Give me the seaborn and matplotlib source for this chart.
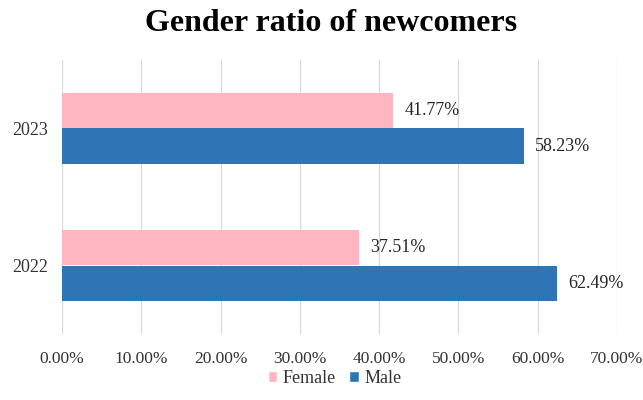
import matplotlib
matplotlib.use("Agg")
import matplotlib.pyplot as plt
import seaborn as sns
import pandas as pd
from matplotlib.patches import Patch

years = ["2023", "2022"]
female = [41.77, 37.51]
male = [58.23, 62.49]
genders = ["Female", "Male"]
colors = {"Female": "#FFB6C1", "Male": "#2E75B6"}
xticks = [0, 10, 20, 30, 40, 50, 60, 70]

rows = []
for y, f, m in zip(years, female, male):
    rows.append({"year": y, "gender": "Female", "value": f})
    rows.append({"year": y, "gender": "Male", "value": m})
df = pd.DataFrame(rows)

sns.set_theme(style="white")
plt.rcParams['font.family'] = ['Liberation Serif', 'DejaVu Serif']

fig = plt.figure(figsize=(6.43, 4.0), dpi=100)
ax = fig.add_axes([0.0964, 0.165, 0.8632, 0.685])
sns.barplot(data=df, y="year", x="value", hue="gender", order=years,
            hue_order=genders, palette=colors, orient="h", width=0.525,
            saturation=1, linewidth=0, edgecolor="none", ax=ax, legend=False)

for cont in ax.containers:
    ax.bar_label(cont, labels=[f"{v:.2f}%" for v in cont.datavalues],
                 padding=8, fontsize=13, color="#262626")

ax.set_xlim(0, 70)
ax.set_ylim(1.5, -0.5)
ax.set_xticks(xticks)
ax.set_xticklabels([f"{t:.2f}%" for t in xticks], fontsize=12.5, color="#333333")
ax.tick_params(axis="y", labelsize=13, colors="#333333", length=0, pad=10)
ax.tick_params(axis="x", length=0, pad=12)
ax.set_xlabel("")
ax.set_ylabel("")
ax.grid(axis="x", color="#d9d9d9", linewidth=0.9)
ax.set_axisbelow(True)
for s in ax.spines.values():
    s.set_visible(False)

fig.suptitle("Gender ratio of newcomers", fontsize=23, fontweight="bold",
             color="black", x=0.515, y=0.978)

handles = [Patch(facecolor=colors[g], label=g) for g in genders]
fig.legend(handles=handles, loc="center", bbox_to_anchor=(0.52, 0.053), ncol=2,
           frameon=False, fontsize=13, handlelength=0.55, handleheight=0.55,
           handletextpad=0.3, columnspacing=0.7)
for t in fig.legends[0].get_texts():
    t.set_color("#333333")

fig.savefig("out.png", dpi=100)
